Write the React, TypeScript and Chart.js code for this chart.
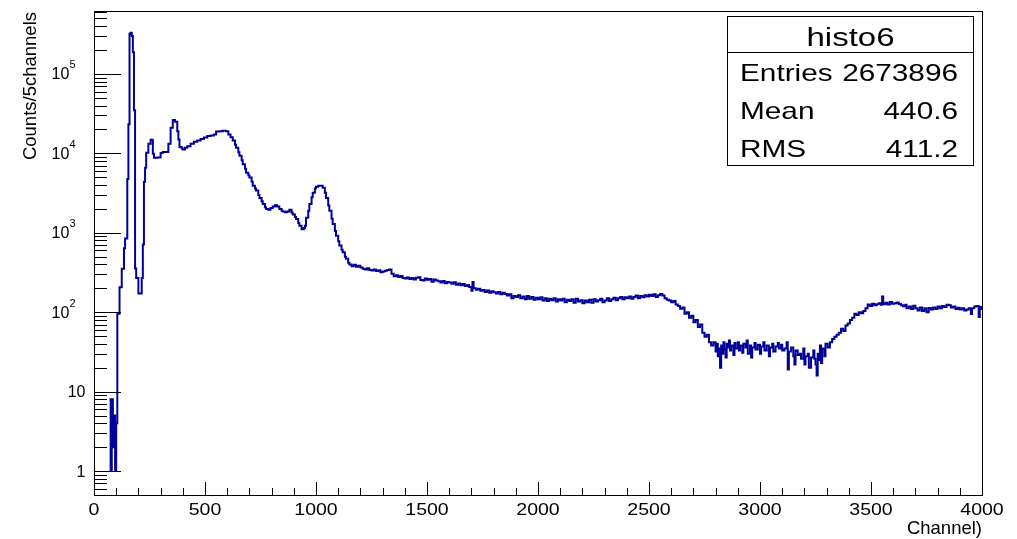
import React, { useEffect, useRef } from "react";
import Chart from "chart.js/auto";

// ---- data: [bin left edge (channel), counts per 5 channels] ----
const lowEdge = [
  [0, 0], [35, 2], [45, 0], [50, 1], [55, 0], [60, 1], [65, 0], [70, 8], [75, 1], [80, 8], [85, 2],
  [90, 5], [95, 1], [100, 4], [105, 96], [115, 207], [125, 352], [135, 640], [140, 850], [150, 4740],
  [155, 23200],
];
const mainPeaks = [
  [160, 320000], [165, 330000], [170, 300000], [175, 187000], [180, 35000], [185, 355], [190, 270],
  [200, 172], [215, 270], [220, 710], [225, 4400], [230, 6600], [235, 10200], [245, 13200], [255, 14800],
  [265, 9900], [270, 8800], [285, 8900], [300, 10100], [310, 10400], [325, 10400], [335, 13200],
  [345, 21000], [355, 26300], [365, 25000], [375, 19000], [380, 14900], [385, 12000], [395, 11500],
  [400, 11200], [410, 11800], [420, 12300], [435, 13200], [450, 14000], [465, 14500], [480, 15200],
  [495, 15800], [510, 16500], [525, 16800], [540, 17300], [550, 18800], [565, 19000], [580, 19200],
  [595, 19000], [605, 17300], [615, 16000], [625, 14500], [635, 12800], [640, 11800], [650, 10300],
  [655, 9300], [665, 8200], [670, 7300], [680, 6400], [685, 5700], [695, 5300], [700, 4970], [710, 4400],
  [715, 3900], [725, 3600], [730, 3400], [740, 3000], [745, 2750], [755, 2500], [760, 2300], [770, 2100],
  [775, 2000], [785, 1950], [795, 2050], [805, 2140], [815, 2230], [825, 2150], [835, 2000], [845, 1900],
  [850, 1860], [860, 1820], [870, 1850], [880, 1950], [890, 1800], [895, 1700], [905, 1580], [910, 1490],
  [920, 1330], [925, 1230], [935, 1110], [945, 1150], [950, 1230], [955, 1550], [965, 1900], [970, 2300],
  [980, 2800], [985, 3200], [995, 3600], [1000, 3800], [1010, 3900], [1020, 3900], [1030, 3700],
  [1040, 3200], [1045, 2750], [1055, 2200], [1060, 1900], [1070, 1500], [1075, 1290], [1085, 1050],
  [1090, 920], [1100, 780], [1105, 690], [1115, 610], [1120, 570], [1130, 500], [1135, 470], [1145, 420],
  [1150, 400], [1160, 380], [1170, 395], [1180, 375], [1190, 385],
];
const plateau = [
  [1200, 365], [1210, 352], [1220, 346], [1230, 358], [1240, 340], [1250, 335], [1260, 344], [1270, 330],
  [1280, 338], [1290, 318], [1300, 326], [1310, 333], [1320, 340], [1330, 345], [1340, 305], [1350, 284],
  [1360, 292], [1370, 278], [1380, 286], [1390, 270], [1400, 266], [1410, 274], [1420, 262], [1430, 270],
  [1440, 258], [1450, 272], [1460, 276], [1470, 255], [1480, 250], [1490, 266], [1500, 256], [1510, 262],
  [1520, 242], [1530, 258], [1540, 250], [1550, 246], [1560, 236], [1570, 248], [1580, 232], [1590, 240],
  [1600, 236], [1610, 228], [1620, 238], [1630, 222], [1640, 230], [1650, 218], [1660, 226], [1670, 214],
  [1680, 220], [1690, 208], [1700, 186], [1705, 240], [1710, 200], [1720, 192], [1730, 198], [1740, 186],
  [1750, 190], [1760, 180], [1770, 188], [1780, 176], [1790, 184], [1800, 178], [1810, 172], [1820, 180],
  [1830, 168], [1840, 176], [1850, 170], [1860, 162], [1870, 168], [1880, 150], [1890, 160], [1900, 156],
  [1910, 164], [1920, 150], [1930, 158], [1940, 146], [1950, 160], [1960, 148], [1970, 156], [1980, 144],
  [1990, 152], [2000, 146], [2010, 154], [2020, 140], [2030, 150], [2040, 138], [2050, 148], [2060, 142],
  [2070, 150], [2080, 136], [2090, 146], [2100, 140], [2110, 148], [2120, 134], [2130, 144], [2140, 138],
  [2150, 146], [2160, 132], [2170, 148], [2180, 136], [2190, 142], [2200, 130], [2210, 140], [2220, 134],
  [2230, 144], [2240, 132], [2250, 146], [2260, 136], [2270, 142], [2280, 148], [2290, 134], [2300, 140],
  [2310, 150], [2320, 138], [2330, 146], [2340, 152], [2350, 142], [2360, 150], [2370, 156], [2380, 146],
  [2390, 154], [2400, 150], [2410, 158], [2420, 148], [2430, 156], [2440, 162], [2450, 150], [2460, 160],
  [2470, 154], [2480, 164], [2490, 158], [2500, 166], [2510, 160], [2520, 168], [2530, 156], [2540, 164],
  [2550, 170], [2560, 162], [2570, 150],
];
const dip = [
  [2580, 144], [2590, 140], [2600, 134], [2610, 138], [2620, 125], [2630, 120], [2640, 111], [2650, 115],
  [2660, 96], [2670, 100], [2680, 85], [2690, 90], [2700, 75], [2710, 80], [2720, 65], [2730, 70],
  [2740, 55], [2750, 49], [2760, 52], [2770, 42], [2780, 38], [2790, 42], [2800, 32], [2805, 40],
  [2810, 28], [2815, 35], [2820, 20], [2825, 38], [2830, 30], [2835, 42], [2840, 34], [2845, 27],
  [2850, 40], [2855, 36], [2860, 44], [2865, 33], [2870, 38], [2880, 29], [2885, 41], [2890, 35],
  [2900, 42], [2905, 33], [2910, 38], [2920, 31], [2925, 40], [2935, 36], [2940, 44], [2945, 30],
  [2955, 38], [2960, 27], [2965, 36], [2975, 41], [2980, 34], [2990, 39], [3000, 30], [3005, 37],
  [3015, 42], [3020, 33], [3030, 38], [3040, 28], [3045, 36], [3055, 40], [3060, 32], [3070, 37],
  [3080, 41], [3085, 35], [3095, 39], [3100, 33], [3110, 35], [3120, 42], [3125, 19], [3130, 32],
  [3140, 36], [3150, 28], [3155, 22], [3160, 33], [3170, 29], [3180, 30], [3185, 26], [3195, 35],
  [3200, 22], [3205, 28], [3215, 30], [3220, 20], [3230, 27], [3240, 33], [3245, 26], [3250, 22],
  [3255, 16], [3260, 30], [3265, 25], [3270, 38], [3275, 23], [3280, 35], [3290, 28], [3295, 40],
];
const tail = [
  [3305, 36], [3315, 42], [3325, 46], [3335, 49], [3345, 52], [3355, 55], [3365, 62], [3375, 58],
  [3385, 68], [3395, 72], [3405, 80], [3415, 85], [3425, 96], [3435, 92], [3445, 100], [3455, 97],
  [3465, 104], [3475, 112], [3485, 125], [3495, 120], [3505, 128], [3515, 122], [3525, 126], [3535, 130],
  [3545, 124], [3550, 158], [3555, 126], [3565, 132], [3575, 125], [3585, 135], [3595, 128], [3605, 130],
  [3615, 133], [3625, 127], [3635, 122], [3645, 119], [3655, 124], [3660, 112], [3670, 118], [3680, 110],
  [3690, 121], [3700, 112], [3710, 105], [3720, 115], [3730, 104], [3740, 112], [3750, 100], [3760, 113],
  [3770, 108], [3780, 115], [3790, 110], [3800, 118], [3810, 112], [3820, 120], [3830, 116], [3840, 124],
  [3850, 122], [3860, 115], [3870, 118], [3880, 110], [3890, 114], [3900, 108], [3910, 112], [3920, 105],
  [3930, 108], [3940, 112], [3950, 95], [3955, 112], [3965, 118], [3975, 120], [3985, 87], [3990, 116],
  [3995, 110],
];

const xMin = 0;
const xMax = 4000;
const yMin = 0.5;
const yMax = 620000;
const xMajorTicks = [0, 500, 1000, 1500, 2000, 2500, 3000, 3500, 4000];
const yDecades = [0, 1, 2, 3, 4, 5];

const statsTitle = "histo6";
const statsRows = [
  ["Entries", "2673896"],
  ["Mean", "440.6"],
  ["RMS", "411.2"],
];
const yTitle = "Counts/5channels";
const xTitle = "Channel)";

const FONT = '"Liberation Sans", Arial, Helvetica, sans-serif';

function drawText(ctx, s, x, y, size, align, sx = 1) {
  ctx.save();
  ctx.font = `${size}px ${FONT}`;
  ctx.textBaseline = "alphabetic";
  ctx.textAlign = align;
  ctx.translate(x, y);
  ctx.scale(sx, 1);
  ctx.fillText(s, 0, 0);
  ctx.restore();
}

const rootPlugin = {
  id: "rootStyle",
  afterDraw(chart) {
    const ctx = chart.ctx;
    const a = chart.chartArea;
    const xs = chart.scales.x;
    const ys = chart.scales.y;
    ctx.save();
    ctx.strokeStyle = "#000";
    ctx.fillStyle = "#000";
    ctx.lineWidth = 1;

    // frame
    ctx.strokeRect(Math.round(a.left) + 0.5, Math.round(a.top) + 0.5, Math.round(a.right - a.left), Math.round(a.bottom - a.top));

    // ticks (drawn inward, ROOT style)
    ctx.beginPath();
    for (let v = xMin; v <= xMax; v += 100) {
      const px = Math.round(xs.getPixelForValue(v)) + 0.5;
      const len = v % 500 === 0 ? 13 : 7;
      ctx.moveTo(px, a.bottom);
      ctx.lineTo(px, a.bottom - len);
    }
    for (const d of [-1, ...yDecades]) {
      for (let k = 1; k <= 9; k++) {
        const v = k * Math.pow(10, d);
        if (v < yMin || v > yMax) continue;
        const py = Math.round(ys.getPixelForValue(v)) + 0.5;
        const len = k === 1 ? 27 : 13;
        ctx.moveTo(a.left, py);
        ctx.lineTo(a.left + len, py);
      }
    }
    ctx.stroke();

    // x labels
    for (const v of xMajorTicks) {
      const px = xs.getPixelForValue(v);
      drawText(ctx, String(v), px, 515, 16, "center", 1.22);
    }
    // y labels
    for (const d of yDecades) {
      const py = ys.getPixelForValue(Math.pow(10, d));
      if (d <= 1) {
        drawText(ctx, d === 0 ? "1" : "10", 85.5, py + 5.5, 16, "right");
      } else {
        ctx.font = `11px ${FONT}`;
        const sw = ctx.measureText(String(d)).width;
        drawText(ctx, String(d), 75.5 - sw, py - 5.5, 11, "left");
        drawText(ctx, "10", 75.5 - sw, py + 5.5, 16, "right");
      }
    }

    // axis titles
    ctx.save();
    ctx.font = `18.5px ${FONT}`;
    ctx.textAlign = "right";
    ctx.textBaseline = "alphabetic";
    ctx.translate(36, a.top + 1);
    ctx.rotate(-Math.PI / 2);
    ctx.fillText(yTitle, 0, 0);
    ctx.restore();
    drawText(ctx, xTitle, 982, 534, 18.5, "right");

    // stats box
    const bx = 727.5, by = 16.5, bw = 246, bh = 149;
    ctx.fillStyle = "#fff";
    ctx.fillRect(bx, by, bw, bh);
    ctx.strokeRect(bx, by, bw, bh);
    ctx.beginPath();
    ctx.moveTo(bx, 52.5);
    ctx.lineTo(bx + bw, 52.5);
    ctx.stroke();
    ctx.fillStyle = "#000";
    drawText(ctx, statsTitle, bx + bw / 2, 46, 25, "center", 1.32);
    const baselines = [81, 119, 157];
    statsRows.forEach((r, i) => {
      drawText(ctx, r[0], 740, baselines[i], 24, "left", 1.24);
      drawText(ctx, r[1], 958, baselines[i], 24, "right", 1.24);
    });
    ctx.restore();
  },
};

export default function App() {
  const ref = useRef(null);
  useEffect(() => {
    document.body.style.margin = "0";
    const bins = [...lowEdge, ...mainPeaks, ...plateau, ...dip, ...tail];
    const pts = bins.map(([c, n]) => ({ x: c, y: n }));
    pts.push({ x: xMax, y: bins[bins.length - 1][1] });
    const chart = new Chart(ref.current, {
      type: "line",
      data: {
        datasets: [
          {
            data: pts,
            stepped: "before",
            borderColor: "#000099",
            borderWidth: 2,
            pointRadius: 0,
            fill: false,
          },
        ],
      },
      options: {
        animation: false,
        responsive: false,
        devicePixelRatio: 1,
        layout: { padding: { left: 94, top: 11, right: 35, bottom: 44 } },
        plugins: { legend: { display: false }, tooltip: { enabled: false } },
        scales: {
          x: { type: "linear", min: xMin, max: xMax, display: false },
          y: { type: "logarithmic", min: yMin, max: yMax, display: false },
        },
      },
      plugins: [rootPlugin],
    });
    return () => chart.destroy();
  }, []);
  return (
    <div style={{ width: 1017, height: 539, background: "#fff" }}>
      <canvas ref={ref} width={1017} height={539} style={{ display: "block" }} />
    </div>
  );
}
